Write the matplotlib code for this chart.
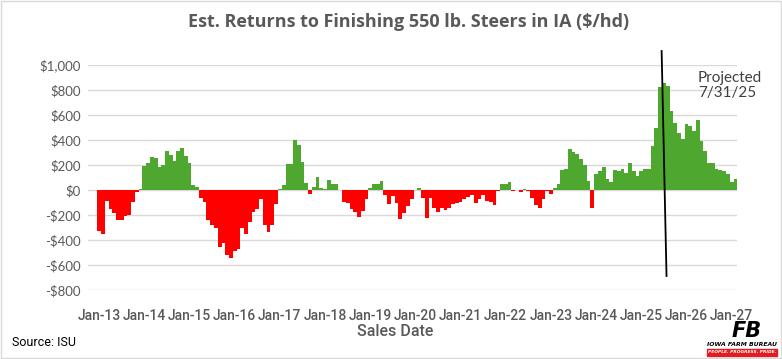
import matplotlib
matplotlib.use("Agg")
import matplotlib.pyplot as plt
from matplotlib.patches import Rectangle
import pandas as pd

# Estimated returns ($/hd) by sale month
r2013 = [-326, -354, -88, -150, -187, -237, -237, -208, -200, -99, -16, 5]
r2014 = [190, 215, 263, 259, 182, 203, 312, 279, 230, 311, 336, 270]
r2015 = [215, 40, 25, -65, -97, -238, -282, -304, -457, -424, -518, -544]
r2016 = [-484, -475, -301, -355, -258, -178, -152, -69, -279, -336, -283, -115]
r2017 = [8, 38, 206, 207, 398, 364, 225, 60, -30, 25, 103, 15]
r2018 = [5, 78, 46, 45, 3, -97, -104, -155, -175, -216, -168, -70]
r2019 = [14, 48, 50, 70, -40, -111, -49, -103, -235, -181, -124, -71]
r2020 = [-3, 15, -62, -220, -63, -140, -175, -145, -160, -140, -115, -104]
r2021 = [-95, -68, -57, -39, -104, -71, -42, -90, -95, -117, -9, 45]
r2022 = [45, 62, -8, 0, -13, 8, -5, -62, -117, -143, -75, -5]
r2023 = [-35, 13, 45, 163, 165, 330, 305, 292, 251, 197, 72, -140]
r2024 = [130, 150, 185, 92, 65, 164, 156, 169, 140, 218, 150, 116]
r2025 = [152, 169, 165, 352, 500, 822, 860, 831, 632, 537, 460, 408]
r2026 = [531, 515, 475, 557, 389, 316, 219, 213, 165, 160, 149, 132]
r2027 = [67, 85]

returns = (r2013 + r2014 + r2015 + r2016 + r2017 + r2018 + r2019 + r2020
           + r2021 + r2022 + r2023 + r2024 + r2025 + r2026 + r2027)
months = pd.date_range("2013-01-01", periods=len(returns), freq="MS")
tick_labels = [m.strftime("%b-%y") for m in months if m.month == 1]
yticks = [1000, 800, 600, 400, 200, 0, -200, -400, -600, -800]
ytick_labels = ["$1,000", "$800", "$600", "$400", "$200", "$0",
                "-$200", "-$400", "-$600", "-$800"]

GREEN = "#4EA72E"
RED = "#FF0000"
GRAY = "#595959"
GRID = "#D9D9D9"
NARROW = ["Roboto", "DejaVu Sans"]

fig = plt.figure(figsize=(7.82, 3.59), dpi=100)
ax = fig.add_axes([88 / 782, 1 - 290 / 359, (737.3 - 88) / 782, 225 / 359])

x = list(range(len(returns)))
colors = [GREEN if v >= 0 else RED for v in returns]
ax.bar(x, returns, width=1.0, color=colors, linewidth=0, zorder=2)

ax.set_ylim(-800, 1000)
ax.set_xlim(-2.97, len(returns) - 0.5)
ax.set_yticks(yticks)
ax.set_yticklabels(ytick_labels, fontsize=9.5, color=GRAY, family=["Lato", "DejaVu Sans"])
ax.set_xticks(x[::12])
ax.set_xticklabels(tick_labels, fontsize=10, color=GRAY, fontweight="medium",
                   family=NARROW)
ax.tick_params(axis="both", length=0)
ax.tick_params(axis="y", pad=5)
ax.tick_params(axis="x", pad=14)
ax.grid(axis="y", color=GRID, linewidth=1, zorder=0)
for s in ax.spines.values():
    s.set_visible(False)

# projection marker line
ax.plot([149.4, 150.7], [1112, -688], color="black", linewidth=1.3,
        clip_on=False, zorder=3)
ax.text(159, 950, "Projected\n7/31/25", fontsize=11, color="#404040",
        va="top", ha="left", linespacing=1.1, family=["Lato", "DejaVu Sans"])

fig.text(0.522, 1 - 22 / 359, "Est. Returns to Finishing 550 lb. Steers in IA ($/hd)",
         ha="center", va="center", fontsize=13, fontweight="bold", color=GRAY,
         family=["Open Sans", "DejaVu Sans"])
fig.text(395 / 782, 1 - 332 / 359, "Sales Date", ha="center", va="center",
         fontsize=11.5, fontweight="medium", color=GRAY, family=NARROW)
fig.text(12 / 782, 1 - 342 / 359, "Source: ISU", ha="left", va="center",
         fontsize=9, color="black", family=NARROW)

# rough Iowa Farm Bureau logo
fig.text(747 / 782, 1 - 331 / 359, "FB", ha="center", va="center", fontsize=15,
         fontweight="heavy", style="italic", color="black", family="DejaVu Sans")
fig.text(742 / 782, 1 - 344.5 / 359, "IOWA FARM BUREAU", ha="center", va="center",
         fontsize=4.4, fontweight="bold", style="italic", color="black", family="DejaVu Sans")
fig.patches.append(Rectangle((707 / 782, 1 - 355.5 / 359), 70 / 782, 7 / 359,
                             transform=fig.transFigure, color="#E31B23"))
fig.text(742 / 782, 1 - 352 / 359, "PEOPLE. PROGRESS. PRIDE.", ha="center", va="center",
         fontsize=3.2, fontweight="bold", style="italic", color="white", family="DejaVu Sans")

# chart border
fig.patches.append(Rectangle((1 / 782, 1 / 359), 780 / 782, 357 / 359,
                             transform=fig.transFigure, fill=False,
                             edgecolor=GRID, linewidth=1))

fig.savefig("out.png", dpi=100)
